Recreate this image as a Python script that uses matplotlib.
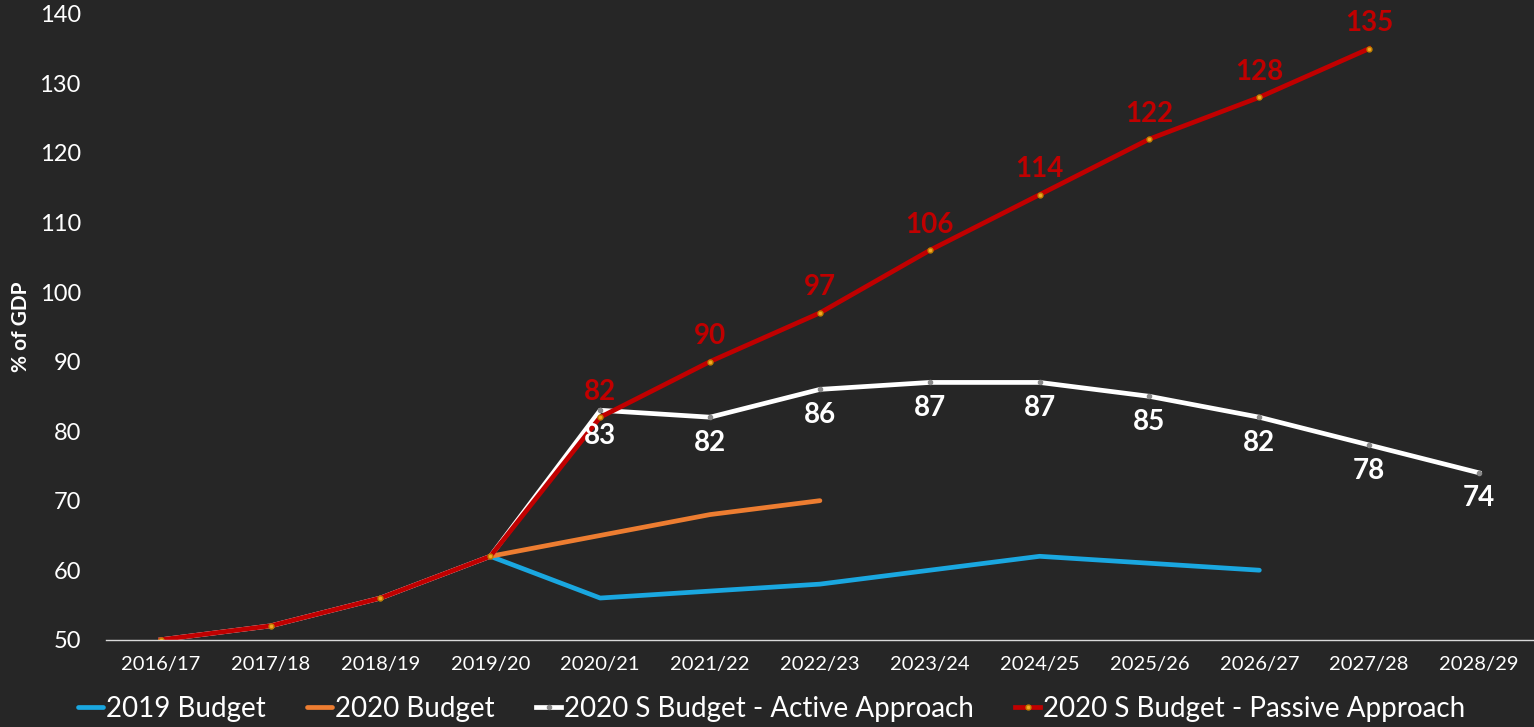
import matplotlib.pyplot as plt

# Séries de dette (% du PIB) par exercice budgétaire
years = ["2016/17", "2017/18", "2018/19", "2019/20", "2020/21", "2021/22", "2022/23",
         "2023/24", "2024/25", "2025/26", "2026/27", "2027/28", "2028/29"]
budget_2019 = [None, None, None, 62, 56, 57, 58, 60, 62, 61, 60, None, None]
budget_2020 = [None, None, None, 62, 65, 68, 70, None, None, None, None, None, None]
active = [50, 52, 56, 62, 83, 82, 86, 87, 87, 85, 82, 78, 74]
passive = [50, 52, 56, 62, 82, 90, 97, 106, 114, 122, 128, 135, None]

bg = "#262626"
plt.rcParams['font.family'] = ['Lato', 'DejaVu Sans']

fig = plt.figure(figsize=(15.34, 7.27), dpi=100, facecolor=bg)
ax = fig.add_axes([0.069, 0.12, 0.931, 0.861], facecolor=bg)

def points(vals):
    xs = [i for i, v in enumerate(vals) if v is not None]
    return xs, [vals[i] for i in xs]

x, y = points(budget_2019)
ax.plot(x, y, color="#1aa7e0", lw=3.4, label="2019 Budget", solid_capstyle='round')
x, y = points(budget_2020)
ax.plot(x, y, color="#ed7d31", lw=3.4, label="2020 Budget", solid_capstyle='round')
x, y = points(active)
ax.plot(x, y, color="white", lw=3.4, marker='o', ms=3, mfc="#888888", mec="#888888",
        label="2020 S Budget - Active Approach")
x, y = points(passive)
ax.plot(x, y, color="#c00000", lw=3.4, marker='o', ms=3.5, mfc="#f5a623", mec="#c08000",
        label="2020 S Budget - Passive Approach")

# Étiquettes de valeurs à partir de 2020/21
for i in range(4, len(years)):
    if passive[i] is not None:
        ax.annotate(str(passive[i]), (i, passive[i]), xytext=(0, 9), textcoords='offset points',
                    ha='center', va='bottom', color="#c00000", fontsize=20, fontweight='bold')
    ax.annotate(str(active[i]), (i, active[i]), xytext=(0, -9), textcoords='offset points',
                ha='center', va='top', color="white", fontsize=20, fontweight='bold')

ax.set_xlim(-0.5, len(years) - 0.5)
ax.set_ylim(50, 140)
ax.set_xticks(range(len(years)))
ax.set_xticklabels(years)
ax.set_yticks(range(50, 141, 10))
ax.tick_params(axis='x', colors='white', labelsize=14.5, length=0, pad=12)
ax.tick_params(axis='y', colors='white', labelsize=17, length=0, pad=18)
for s in ['top', 'right', 'left']:
    ax.spines[s].set_visible(False)
ax.spines['bottom'].set_color('#d9d9d9')
ax.spines['bottom'].set_linewidth(1)
ax.set_ylabel("% of GDP", color='white', fontsize=15, fontweight='bold', labelpad=6)

fig.legend(*ax.get_legend_handles_labels(), loc='center', bbox_to_anchor=(0.503, 0.025),
           ncol=4, frameon=False, fontsize=20, handlelength=0.9, handletextpad=0.1,
           columnspacing=1.5, labelcolor='white')

fig.savefig("out.png", dpi=100, facecolor=bg)
